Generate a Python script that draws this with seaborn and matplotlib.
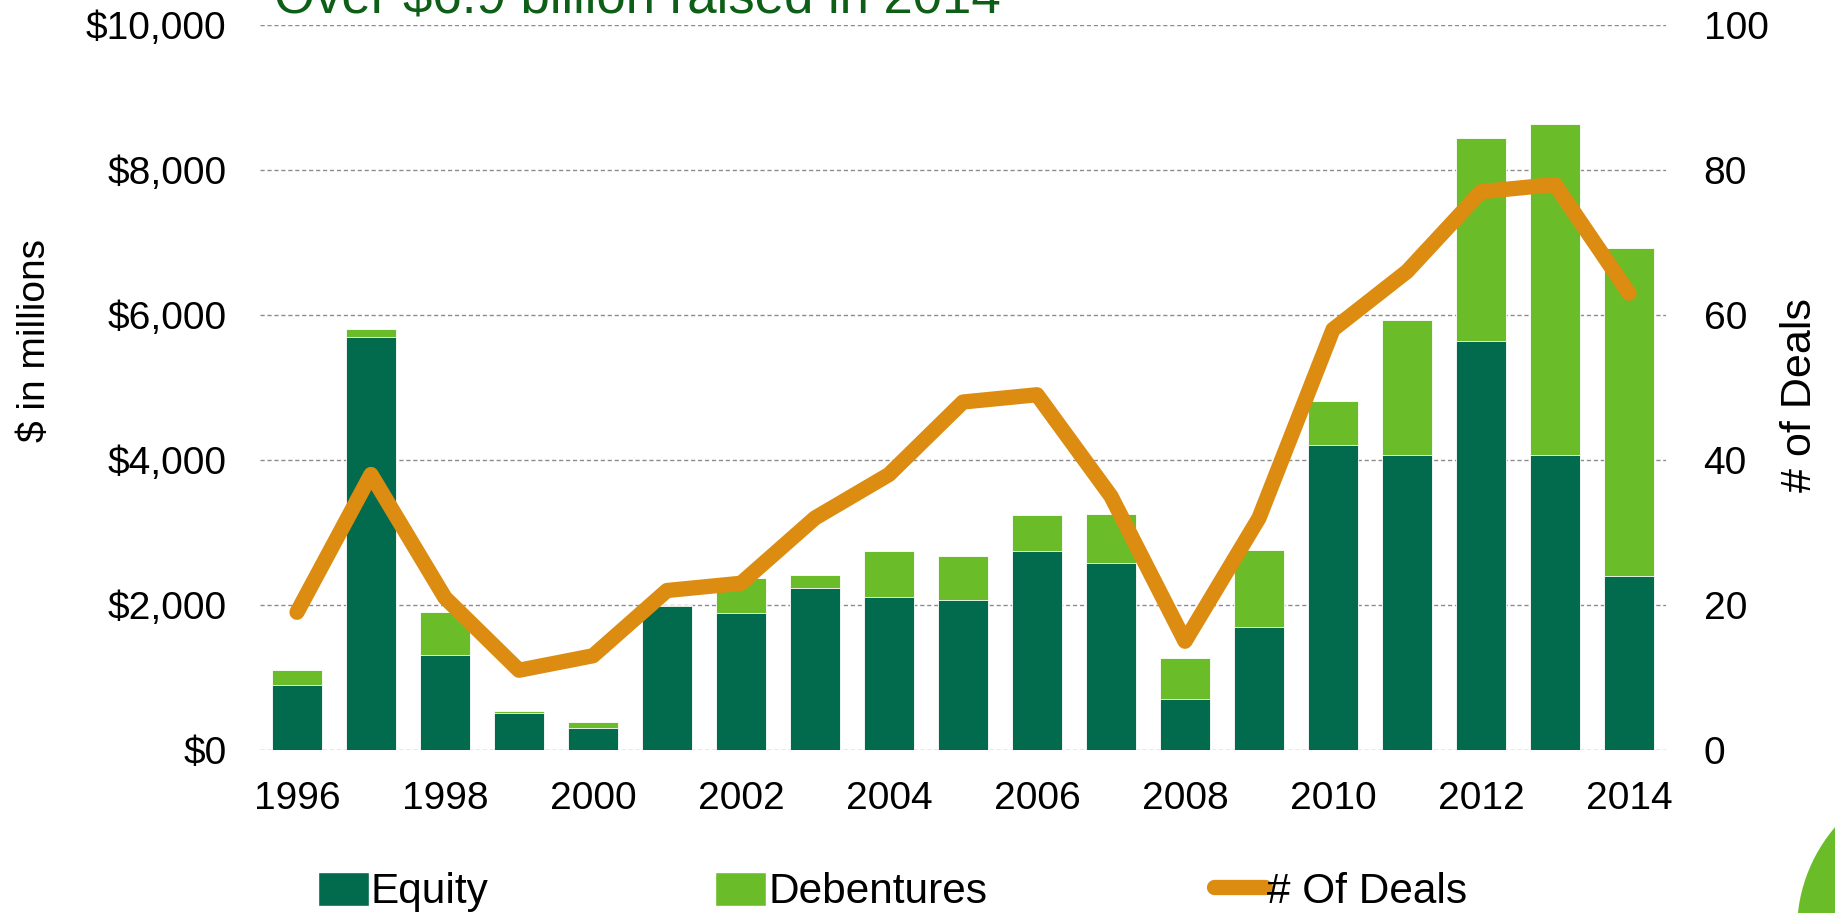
import matplotlib
matplotlib.use("Agg")
import matplotlib.pyplot as plt
import seaborn as sns
import numpy as np
import pandas as pd
from matplotlib.patches import Patch, Circle
from matplotlib.lines import Line2D

# values
years = [str(y) for y in range(1996, 2015)]
equity = [890, 5700, 1315, 515, 310, 1985, 1890, 2240, 2110, 2065, 2745, 2580,
          710, 1700, 4210, 4070, 5635, 4070, 2400]
debentures = [210, 110, 585, 25, 80, 15, 480, 180, 630, 615, 495, 675,
              555, 1060, 610, 1860, 2805, 4560, 4520]
deals = [19, 38, 21, 11, 13, 22, 23, 32, 38, 48, 49, 35, 15, 32, 58, 66, 77, 78, 63]

dark_green = '#026b4e'
light_green = '#6abd28'
orange = '#dc8c10'

df = pd.DataFrame({'year': years, 'equity': equity, 'debentures': debentures, 'deals': deals})
df['total'] = df['equity'] + df['debentures']

sns.set_style('white')
plt.rcParams['font.family'] = ['Liberation Sans', 'DejaVu Sans']
plt.rcParams['text.color'] = 'black'
plt.rcParams['xtick.color'] = 'black'
plt.rcParams['ytick.color'] = 'black'

fig = plt.figure(figsize=(18.35, 9.13), dpi=100)
ax = fig.add_axes([260 / 1835, 1 - 750 / 913, 1406 / 1835, 725 / 913])

# stacked bars: total first (light), equity on top (dark)
sns.barplot(data=df, x='year', y='total', color=light_green, saturation=1,
            width=0.68, errorbar=None, ax=ax, edgecolor='white', linewidth=0.6)
sns.barplot(data=df, x='year', y='equity', color=dark_green, saturation=1,
            width=0.68, errorbar=None, ax=ax, edgecolor='white', linewidth=0.6)

ax.set_ylim(0, 10000)
ax.set_yticks(range(0, 10001, 2000))
ax.set_yticklabels(['${:,}'.format(v) for v in range(0, 10001, 2000)])
ax.set_axisbelow(True)
ax.yaxis.grid(True, linestyle=(0, (3, 2)), color='#8c8c8c', linewidth=1)
ax.set_xlabel('')
ax.set_ylabel('')

ax2 = ax.twinx()
sns.lineplot(x=np.arange(len(years)), y=df['deals'], ax=ax2, color=orange,
             linewidth=11, solid_capstyle='round', solid_joinstyle='round')
ax2.set_ylim(0, 100)
ax2.set_yticks(range(0, 101, 20))
ax2.set_ylabel('')

ax.set_xlim(-0.5, len(years) - 0.5)
ax.set_xticks(range(0, len(years), 2))
ax.set_xticklabels(years[::2])

for a in (ax, ax2):
    for s in a.spines.values():
        s.set_visible(False)
ax.tick_params(axis='y', length=0, labelsize=28, pad=24)
ax.tick_params(axis='x', length=0, labelsize=28, pad=22)
ax2.tick_params(axis='y', length=0, labelsize=28, pad=27)

fig.text(35 / 1835, 1 - 340 / 913, '$ in millions', rotation=90, fontsize=28,
         ha='center', va='center')
fig.text(1800 / 1835, 1 - 395 / 913, '# of Deals', rotation=90, fontsize=31,
         ha='center', va='center')

fig.text(274 / 1835, 1 - 13 / 913, 'Over $6.9 billion raised in 2014', fontsize=38,
         color='#0d5e16', ha='left', va='baseline')

handles = [Patch(facecolor=dark_green), Patch(facecolor=light_green),
           Line2D([0], [0], color=orange, linewidth=11, solid_capstyle='round')]
fig.legend(handles, ['Equity', 'Debentures', '# Of Deals'], ncol=3,
           loc='center left', bbox_to_anchor=(318 / 1835, 1 - 892 / 913),
           frameon=False, fontsize=30.5, handlelength=1.2, handleheight=0.85,
           handletextpad=0.05, columnspacing=5.35, borderpad=0, borderaxespad=0)

fig.patches.append(Circle((19.55, -0.17), 1.58, transform=fig.dpi_scale_trans,
                          facecolor=light_green, edgecolor='none'))

fig.savefig('out.png', dpi=100)
